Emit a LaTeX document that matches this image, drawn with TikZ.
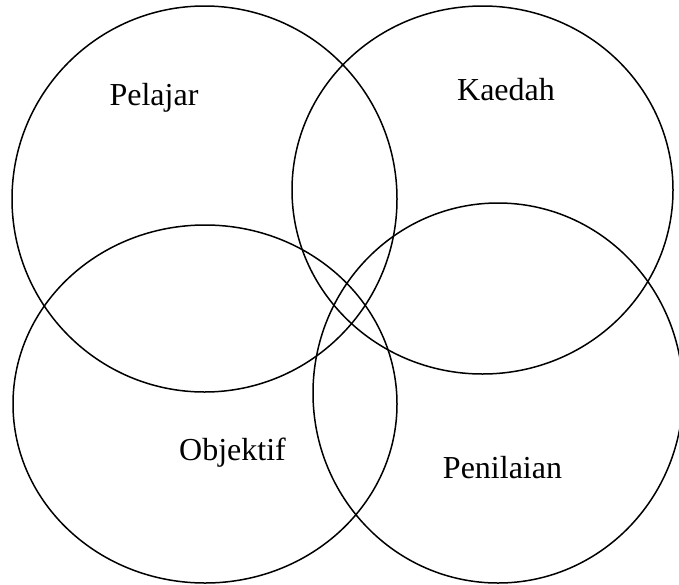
\documentclass[tikz,border=0pt]{standalone}
\usepackage{fontspec}
\setmainfont{Liberation Serif}
\begin{document}
\begin{tikzpicture}[x=1pt,y=-1pt,
  circ/.style={draw=black,line width=1.5pt},
  lbl/.style={font=\fontsize{32}{38}\selectfont, anchor=base, inner sep=0pt}]
\useasboundingbox (0,0) rectangle (679,584);
\clip (0,0) rectangle (679,584);
% top-left (Pelajar)
\draw[circ] (204.5,199) ellipse [x radius=192.5, y radius=193];
% top-right (Kaedah)
\draw[circ] (482.5,190) ellipse [x radius=190.5, y radius=184];
% bottom-left (Objektif)
\draw[circ] (205,404) ellipse [x radius=192, y radius=179];
% bottom-right (Penilaian)
\draw[circ] (498,393) ellipse [x radius=185, y radius=190];
\node[lbl] (pelajar) at (154,105) {Pelajar};
\node[lbl] (kaedah) at (506,100) {Kaedah};
\node[lbl] (objektif) at (232.5,460) {Objektif};
\node[lbl] (penilaian) at (502.5,478) {Penilaian};
\end{tikzpicture}
\end{document}
